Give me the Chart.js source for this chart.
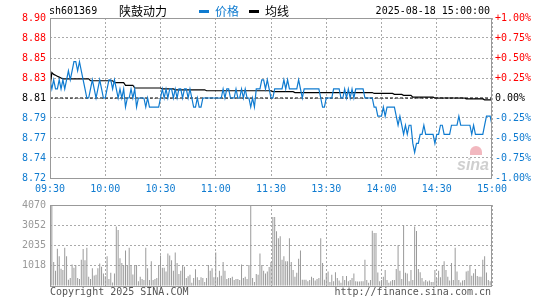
<!DOCTYPE html>
<html>
<head>
<meta charset="utf-8">
<script src="https://cdn.jsdelivr.net/npm/chart.js@4.4.1/dist/chart.umd.min.js"></script>
<style>
  body { margin: 0; background: #fff; }
  #wrap { position: relative; width: 545px; height: 300px; }
  #cPrice { position: absolute; left: 0; top: 0; }
  #cVol { position: absolute; left: 0; top: 195px; }
</style>
</head>
<body>
<div id="wrap">
  <canvas id="cPrice" width="545" height="195"></canvas>
  <canvas id="cVol" width="545" height="105"></canvas>
</div>
<script>
// header
const stockCode = 'sh601369';
const stockName = '陕鼓动力';
const stamp = '2025-08-18 15:00:00';
const legendNames = ['价格', '均线'];

// axes
const prevClose = 8.81;
const pctSteps = [-1, -0.75, -0.5, -0.25, 0, 0.25, 0.5, 0.75, 1];
const priceLabels = ['8.72', '8.74', '8.77', '8.79', '8.81', '8.83', '8.85', '8.88', '8.90'];
const pctLabels = ['-1.00%', '-0.75%', '-0.50%', '-0.25%', '0.00%', '+0.25%', '+0.50%', '+0.75%', '+1.00%'];
const timeTicks = [0, 30, 60, 90, 120, 150, 180, 210, 240];
const timeLabels = ['09:30', '10:00', '10:30', '11:00', '11:30', '13:30', '14:00', '14:30', '15:00'];
const volMax = 4070;
const volLabels = ['', '1018', '2035', '3052', '4070'];

// one value per minute, 09:30..11:30 then 13:01..15:00
const price = [
  8.83,8.82,8.83,8.82,8.82,8.83,8.82,8.83,8.82,8.83,
  8.84,8.83,8.84,8.85,8.85,8.84,8.85,8.84,8.83,8.82,
  8.81,8.81,8.82,8.83,8.82,8.81,8.82,8.83,8.82,8.81,
  8.81,8.82,8.83,8.83,8.82,8.83,8.82,8.81,8.82,8.81,
  8.82,8.80,8.81,8.81,8.82,8.81,8.82,8.80,8.81,8.81,
  8.81,8.81,8.80,8.81,8.80,8.80,8.80,8.80,8.80,8.80,
  8.81,8.82,8.81,8.82,8.81,8.82,8.82,8.81,8.82,8.81,
  8.82,8.82,8.81,8.82,8.82,8.81,8.82,8.81,8.80,8.80,
  8.81,8.80,8.80,8.81,8.81,8.81,8.81,8.81,8.81,8.81,
  8.81,8.81,8.81,8.81,8.82,8.81,8.82,8.82,8.81,8.81,
  8.81,8.82,8.81,8.81,8.82,8.81,8.82,8.81,8.81,8.80,
  8.81,8.80,8.82,8.82,8.82,8.83,8.83,8.82,8.83,8.82,
  8.81,
  8.81,8.82,8.82,8.82,8.82,8.82,8.83,8.82,8.83,8.82,
  8.82,8.82,8.82,8.82,8.83,8.82,8.81,8.82,8.82,8.82,
  8.82,8.82,8.82,8.82,8.82,8.82,8.81,8.80,8.80,8.81,
  8.81,8.81,8.81,8.82,8.82,8.82,8.82,8.81,8.81,8.82,
  8.81,8.82,8.81,8.82,8.81,8.82,8.82,8.82,8.82,8.82,
  8.81,8.81,8.81,8.81,8.81,8.80,8.80,8.79,8.79,8.79,
  8.80,8.79,8.80,8.80,8.80,8.80,8.80,8.79,8.78,8.79,
  8.78,8.77,8.78,8.77,8.78,8.78,8.76,8.75,8.76,8.76,
  8.77,8.77,8.78,8.77,8.77,8.77,8.77,8.77,8.76,8.77,
  8.77,8.78,8.78,8.77,8.77,8.77,8.77,8.78,8.78,8.78,
  8.78,8.79,8.78,8.78,8.78,8.78,8.78,8.78,8.77,8.78,
  8.77,8.77,8.77,8.77,8.77,8.78,8.79,8.79,8.79,8.78
];

const avgPrice = [
  8.822,8.838,8.836,8.835,8.834,8.833,8.832,8.831,8.831,8.831,
  8.831,8.831,8.831,8.831,8.831,8.831,8.831,8.831,8.831,8.831,
  8.831,8.831,8.829,8.829,8.829,8.829,8.829,8.829,8.829,8.829,
  8.829,8.829,8.829,8.829,8.829,8.827,8.827,8.827,8.827,8.827,
  8.827,8.824,8.824,8.824,8.824,8.824,8.821,8.821,8.821,8.821,
  8.821,8.821,8.821,8.821,8.821,8.821,8.821,8.821,8.821,8.821,
  8.821,8.820,8.820,8.820,8.820,8.820,8.820,8.820,8.819,8.819,
  8.819,8.819,8.819,8.819,8.819,8.819,8.819,8.819,8.819,8.819,
  8.819,8.819,8.819,8.819,8.819,8.818,8.818,8.818,8.818,8.818,
  8.818,8.818,8.818,8.818,8.818,8.818,8.818,8.818,8.818,8.818,
  8.818,8.818,8.818,8.818,8.818,8.818,8.818,8.818,8.818,8.818,
  8.818,8.818,8.818,8.818,8.818,8.818,8.818,8.818,8.818,8.818,
  8.818,
  8.817,8.817,8.817,8.817,8.817,8.817,8.817,8.817,8.817,8.817,
  8.817,8.817,8.816,8.816,8.816,8.816,8.816,8.816,8.816,8.816,
  8.816,8.816,8.816,8.816,8.816,8.816,8.816,8.816,8.816,8.816,
  8.816,8.816,8.816,8.816,8.816,8.816,8.816,8.816,8.816,8.816,
  8.816,8.816,8.816,8.816,8.816,8.816,8.816,8.816,8.816,8.816,
  8.816,8.816,8.816,8.816,8.816,8.815,8.815,8.815,8.815,8.815,
  8.815,8.815,8.815,8.815,8.815,8.815,8.814,8.814,8.814,8.814,
  8.814,8.813,8.813,8.813,8.813,8.813,8.811,8.811,8.811,8.811,
  8.811,8.811,8.811,8.811,8.811,8.811,8.811,8.811,8.810,8.810,
  8.810,8.810,8.810,8.810,8.810,8.810,8.810,8.810,8.810,8.810,
  8.810,8.810,8.810,8.810,8.810,8.809,8.809,8.809,8.809,8.809,
  8.809,8.809,8.809,8.809,8.809,8.808,8.808,8.808,8.808,8.808
];

const volume = [
  1050,4070,1210,760,1870,1490,870,810,1920,1490,
  320,400,1080,920,1050,400,355,1320,1860,1290,
  1920,470,355,890,530,565,890,1130,970,630,
  485,1490,355,660,180,630,2990,2810,1390,1160,
  1050,1780,1050,1920,1050,580,1050,1050,240,470,
  355,300,1920,890,300,1240,300,355,400,1050,
  1530,920,920,730,1630,1530,1290,760,1680,1160,
  600,760,1050,970,400,485,565,160,400,840,
  435,300,435,400,195,400,1050,760,890,435,
  1680,435,760,520,1210,760,355,400,400,470,
  300,355,355,300,1080,400,470,355,1050,4070,
  400,195,600,565,1630,1050,760,630,730,950,
  1210,
  3470,3470,2750,2400,2500,1320,1490,1240,1240,2400,
  1210,810,470,660,1370,1780,320,320,320,240,
  300,470,400,275,355,400,2400,1150,320,645,
  730,195,565,240,695,400,275,160,500,300,
  500,240,300,400,630,240,225,225,240,240,
  1320,300,160,300,2780,2660,2660,680,240,300,
  470,810,300,160,240,300,300,860,2050,760,
  355,3070,660,630,240,810,300,2990,2760,860,
  695,400,225,300,225,275,195,195,810,400,
  760,435,1050,1240,810,470,275,1150,300,1920,
  730,300,180,275,300,730,760,1050,520,645,
  860,500,470,470,1320,1490,680,300,240,160
];

const BLUE = '#0f7bd0';
const RED = '#ff0000';
const GRID = '#aaaaaa';
const FRAME = '#999999';
const MONO = '"DejaVu Sans Mono", "Liberation Mono", monospace';
const CJK = '"Noto Sans CJK SC", sans-serif';

Chart.defaults.font.family = MONO;
Chart.defaults.font.size = 10;

function pctColor(i) {
  if (i > 4) return RED;
  if (i === 4) return '#000';
  return BLUE;
}

const priceTicks = pctSteps.map(p => ({ value: prevClose * (1 + p / 100) }));

const priceDecor = {
  id: 'priceDecor',
  beforeDatasetsDraw(chart) {
    const ctx = chart.ctx;
    // sina watermark
    ctx.save();
    ctx.fillStyle = '#f2b8bf';
    ctx.beginPath();
    ctx.arc(476, 152, 6, Math.PI, 2 * Math.PI);
    ctx.lineTo(482, 155);
    ctx.lineTo(470, 155);
    ctx.closePath();
    ctx.fill();
    ctx.fillStyle = '#cfcfcf';
    ctx.font = 'italic bold 16px "Liberation Sans", sans-serif';
    ctx.textAlign = 'left';
    ctx.textBaseline = 'alphabetic';
    ctx.fillText('sina', 457, 170);
    ctx.restore();
  },
  afterDraw(chart) {
    const ctx = chart.ctx;
    const a = chart.chartArea;
    ctx.save();
    ctx.strokeStyle = FRAME;
    ctx.lineWidth = 1;
    ctx.strokeRect(a.left + 0.5, a.top + 0.5, a.right - a.left - 1, a.bottom - a.top);
    ctx.textBaseline = 'middle';
    ctx.fillStyle = '#000';
    ctx.font = '10px ' + MONO;
    ctx.textAlign = 'left';
    ctx.fillText(stockCode, 49, 11);
    ctx.font = '12px ' + CJK;
    ctx.fillText(stockName, 119, 11);
    ctx.fillStyle = BLUE;
    ctx.fillRect(199, 10, 10, 3);
    ctx.fillText(legendNames[0], 215, 11);
    ctx.fillStyle = '#000';
    ctx.fillRect(249, 10, 10, 3);
    ctx.fillText(legendNames[1], 265, 11);
    ctx.font = '10px ' + MONO;
    ctx.textAlign = 'right';
    ctx.fillText(stamp, 490, 11);
    ctx.restore();
  }
};

new Chart(document.getElementById('cPrice'), {
  type: 'line',
  data: {
    datasets: [
      {
        data: price.map((v, i) => ({ x: i, y: v })),
        borderColor: BLUE,
        borderWidth: 1.2,
        pointRadius: 0,
        tension: 0
      },
      {
        data: avgPrice.map((v, i) => ({ x: i, y: v })),
        borderColor: '#000',
        borderWidth: 1.2,
        pointRadius: 0,
        tension: 0
      },
      {
        data: [{ x: 0, y: prevClose }, { x: 240, y: prevClose }],
        borderColor: '#000',
        borderWidth: 1,
        borderDash: [3, 2],
        pointRadius: 0
      }
    ]
  },
  options: {
    responsive: false,
    animation: false,
    events: [],
    layout: { padding: { top: 18, left: 0, right: 0, bottom: 0 } },
    plugins: { legend: { display: false }, tooltip: { enabled: false } },
    scales: {
      x: {
        type: 'linear',
        min: 0,
        max: 240,
        offset: false,
        afterBuildTicks: s => { s.ticks = timeTicks.map(v => ({ value: v })); },
        afterFit: s => { s.height = 17; },
        ticks: {
          autoSkip: false,
          maxRotation: 0,
          padding: 5,
          color: BLUE,
          callback: (v, i) => timeLabels[i]
        },
        grid: { color: GRID, drawTicks: false },
        border: { display: false, dash: [2, 2] }
      },
      y: {
        position: 'left',
        min: prevClose * 0.99,
        max: prevClose * 1.01,
        afterBuildTicks: s => { s.ticks = priceTicks.map(t => ({ value: t.value })); },
        afterFit: s => { s.width = 50; },
        ticks: {
          padding: 4,
          color: c => pctColor(c.index),
          callback: (v, i) => priceLabels[i]
        },
        grid: { color: GRID, drawTicks: false },
        border: { display: false, dash: [2, 2] }
      },
      y2: {
        position: 'right',
        min: prevClose * 0.99,
        max: prevClose * 1.01,
        afterBuildTicks: s => { s.ticks = priceTicks.map(t => ({ value: t.value })); },
        afterFit: s => { s.width = 53; },
        ticks: {
          padding: 3,
          color: c => pctColor(c.index),
          callback: (v, i) => pctLabels[i]
        },
        grid: { drawOnChartArea: false, drawTicks: false },
        border: { display: false }
      }
    }
  },
  plugins: [priceDecor]
});

const volDecor = {
  id: 'volDecor',
  afterDraw(chart) {
    const ctx = chart.ctx;
    const a = chart.chartArea;
    ctx.save();
    ctx.strokeStyle = FRAME;
    ctx.lineWidth = 1;
    ctx.strokeRect(a.left + 0.5, a.top + 0.5, a.right - a.left - 1, a.bottom - a.top);
    ctx.fillStyle = '#555';
    ctx.font = '10px ' + MONO;
    ctx.textBaseline = 'middle';
    ctx.textAlign = 'left';
    ctx.fillText('Copyright 2025 SINA.COM', 50, 97.5);
    ctx.textAlign = 'right';
    ctx.fillText('http://finance.sina.com.cn', 491, 97.5);
    ctx.restore();
  }
};

new Chart(document.getElementById('cVol'), {
  type: 'bar',
  data: {
    datasets: [{
      data: volume.map((v, i) => ({ x: i, y: v })),
      backgroundColor: '#9a9a9a',
      barThickness: 1,
      inflateAmount: 0
    }]
  },
  options: {
    responsive: false,
    animation: false,
    events: [],
    layout: { padding: { top: 7, left: 0, right: 53, bottom: 0 } },
    plugins: { legend: { display: false }, tooltip: { enabled: false } },
    scales: {
      x: {
        type: 'linear',
        min: 0,
        max: 240,
        offset: false,
        afterBuildTicks: s => { s.ticks = timeTicks.map(v => ({ value: v })); },
        afterFit: s => { s.height = 14; },
        ticks: { display: false },
        grid: { color: GRID, drawTicks: false, offset: false },
        border: { display: false, dash: [2, 2] }
      },
      y: {
        min: 0,
        max: volMax,
        afterBuildTicks: s => { s.ticks = [0, 0.25, 0.5, 0.75, 1].map(f => ({ value: volMax * f })); },
        afterFit: s => { s.width = 50; },
        ticks: {
          padding: 4,
          color: '#999999',
          callback: (v, i) => volLabels[i]
        },
        grid: { color: GRID, drawTicks: false },
        border: { display: false, dash: [2, 2] }
      }
    }
  },
  plugins: [volDecor]
});
</script>
</body>
</html>
